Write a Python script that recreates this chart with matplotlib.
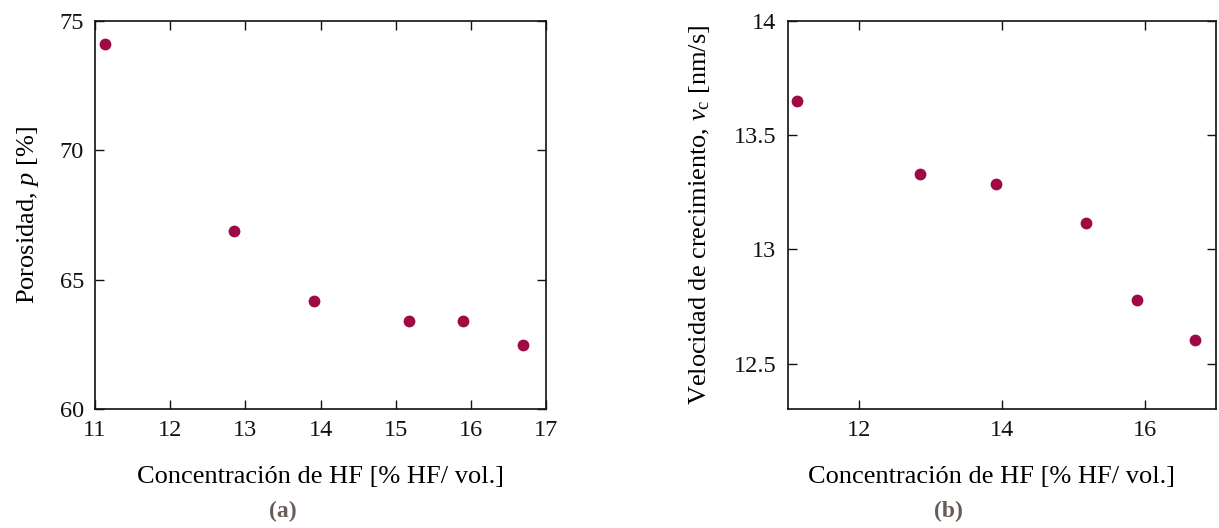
import matplotlib
matplotlib.use("Agg")
import matplotlib.pyplot as plt

# Datos experimentales
concentracion_hf = [11.135, 12.85, 13.915, 15.18, 15.895, 16.70]
porosidad = [74.11, 66.89, 64.17, 63.42, 63.42, 62.49]
velocidad = [13.647, 13.331, 13.287, 13.115, 12.777, 12.602]

ticks_x_a = [11, 12, 13, 14, 15, 16, 17]
ticks_y_a = [60, 65, 70, 75]
ticks_x_b = [12, 14, 16]
ticks_y_b = [12.5, 13, 13.5, 14]
etiquetas_y_b = ["12.5", "13", "13.5", "14"]

color_punto = "#9E0A45"
color_rotulo = "#6B5B58"

plt.rcParams["font.family"] = ["Liberation Serif", "DejaVu Serif"]
plt.rcParams["mathtext.fontset"] = "custom"
plt.rcParams["mathtext.it"] = "Liberation Serif:italic"
plt.rcParams["mathtext.rm"] = "Liberation Serif"

W, H = 1219, 528
fig = plt.figure(figsize=(W / 100, H / 100), dpi=100)
ax_a = fig.add_axes([95 / W, 1 - 409.3 / H, (546 - 95) / W, (409.3 - 20.7) / H])
ax_b = fig.add_axes([787.7 / W, 1 - 409.3 / H, (1216 - 787.7) / W, (409.3 - 20.7) / H])


def estilo(ax):
    ax.tick_params(direction="in", length=6.5, width=1.0, top=True, right=True,
                   labelsize=17.5, pad=8, colors="#111111")
    for s in ax.spines.values():
        s.set_linewidth(1.2)
        s.set_color("#111111")


ax_a.plot(concentracion_hf, porosidad, "o", color=color_punto, markersize=8.5,
          markeredgewidth=0)
ax_a.set_xlim(11, 17)
ax_a.set_ylim(60, 75)
ax_a.set_xticks(ticks_x_a)
ax_a.set_yticks(ticks_y_a)
ax_a.set_xlabel("Concentración de HF [% HF/ vol.]", fontsize=19)
ax_a.xaxis.set_label_coords(0.5, -0.1735)
ax_a.xaxis.label.set_verticalalignment("center")
ax_a.set_ylabel("Porosidad, $p$ [%]", fontsize=19, labelpad=13)
estilo(ax_a)

ax_b.plot(concentracion_hf, velocidad, "o", color=color_punto, markersize=8.5,
          markeredgewidth=0)
ax_b.set_xlim(11, 17)
ax_b.set_ylim(12.3, 14)
ax_b.set_xticks(ticks_x_b)
ax_b.set_yticks(ticks_y_b)
ax_b.set_yticklabels(etiquetas_y_b)
ax_b.set_xlabel("Concentración de HF [% HF/ vol.]", fontsize=19)
ax_b.xaxis.set_label_coords(0.476, -0.1735)
ax_b.xaxis.label.set_verticalalignment("center")
ax_b.set_ylabel(r"Velocidad de crecimiento, $v_{\mathrm{c}}$ [nm/s]", fontsize=19,
                labelpad=16)
estilo(ax_b)

fig.text(282.7 / W, 1 - 511.7 / H, "(a)", ha="center", va="center",
         fontsize=17, fontweight="bold", color=color_rotulo)
fig.text(948.3 / W, 1 - 511.7 / H, "(b)", ha="center", va="center",
         fontsize=17, fontweight="bold", color=color_rotulo)

fig.savefig("out.png", dpi=100)
